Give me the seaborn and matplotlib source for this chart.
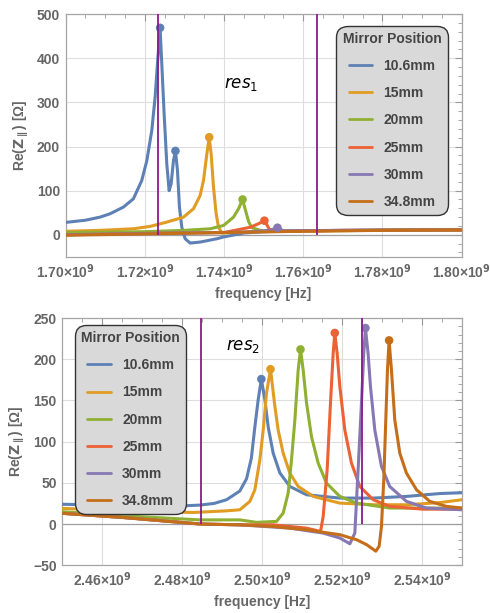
import numpy as np
import seaborn as sns
import matplotlib.pyplot as plt
from matplotlib.ticker import MultipleLocator, FuncFormatter

positions = ["10.6mm", "15mm", "20mm", "25mm", "30mm", "34.8mm"]
colors = ["#5e81b5", "#e19c24", "#8fb032", "#eb6235", "#8778b3", "#c56e1a"]

# --- res1: frequency in GHz, Re(Z) in Ohm ---
r1_f_106 = [1.700, 1.705, 1.70868, 1.71121, 1.71458, 1.71711, 1.71922, 1.7205, 1.72175,
            1.72259, 1.72318, 1.72385, 1.72428, 1.72487, 1.72554, 1.72613, 1.72664, 1.72723,
            1.72773, 1.72824, 1.72874, 1.72933, 1.73018, 1.73144, 1.73397, 1.73819, 1.73987,
            1.745, 1.750, 1.760, 1.770, 1.780, 1.790, 1.800]
r1_z_106 = [28, 33, 40, 47.6, 62.7, 81.5, 123, 168, 236,
            311.5, 387, 469, 387, 274, 161, 100, 115.5, 168,
            190, 145.6, 62.7, 17.3, -9, -18.8, -16.5, -9, -5,
            4, 7, 9, 10, 11, 12, 12]
r1_f_15 = [1.700, 1.70868, 1.71711, 1.72133, 1.72554, 1.72976, 1.73228, 1.73397, 1.73481,
           1.73566, 1.73625, 1.73675, 1.73734, 1.73801, 1.73861, 1.73945, 1.745, 1.750,
           1.760, 1.780, 1.800]
r1_z_15 = [8, 10, 13.6, 19, 28.7, 40, 58.9, 89, 123,
           183, 221, 183, 108, 47.6, 17.3, 4, 6, 8,
           9, 10, 11]
r1_f_20 = [1.700, 1.720, 1.730, 1.7365, 1.73987, 1.7424, 1.74367, 1.74468, 1.7462, 1.7470,
           1.750, 1.760, 1.780, 1.800]
r1_z_20 = [5, 7, 10, 13.6, 21, 40, 59, 80, 30, 16, 8, 9, 10, 11]
r1_f_25 = [1.700, 1.720, 1.740, 1.7466, 1.7487, 1.7502, 1.7515, 1.755, 1.770, 1.800]
r1_z_25 = [0, 3, 5, 17, 25, 32, 12, 8, 10, 11]
r1_f_30 = [1.700, 1.720, 1.745, 1.7515, 1.7535, 1.755, 1.770, 1.800]
r1_z_30 = [0, 3, 6, 10, 16, 9, 10, 11]
r1_f_348 = [1.700, 1.720, 1.740, 1.760, 1.780, 1.800]
r1_z_348 = [-1, 2, 5, 8, 10, 11]

r1_peak_f = [[1.72385, 1.72773], [1.73625], [1.74468], [1.7502], [1.7535], []]
r1_peak_z = [[469, 190], [221], [80], [32], [16], []]
r1_markers = [1.7233, 1.7634]

# --- res2 ---
r2_f_106 = [2.450, 2.460, 2.470, 2.480, 2.4845, 2.488, 2.4911, 2.4944, 2.4961, 2.4973,
            2.49818, 2.49901, 2.4998, 2.50068, 2.50151, 2.50276, 2.50443, 2.50693, 2.5111,
            2.5194, 2.5278, 2.5361, 2.5444, 2.550]
r2_z_106 = [24, 23, 22.5, 22, 23, 25, 29.5, 40, 55, 80,
            118, 151, 176, 151, 118, 86, 62, 45.6, 35.5,
            31.5, 31.5, 33.5, 37, 38]
r2_f_15 = [2.450, 2.465, 2.4828, 2.4911, 2.49443, 2.49693, 2.49818, 2.49943, 2.50026, 2.50109,
           2.50209, 2.50318, 2.50401, 2.50526, 2.50693, 2.50901, 2.5128, 2.5194, 2.5278,
           2.5361, 2.5444, 2.550]
r2_z_15 = [19, 16, 14, 16, 17.3, 27.5, 41.6, 78, 114, 159,
           188, 143, 114, 86, 61.8, 45.6, 33.5, 25.4, 23.4,
           23.4, 26, 29.5]
r2_f_20 = [2.450, 2.465, 2.4845, 2.49443, 2.4986, 2.5036, 2.50526, 2.50651, 2.50734, 2.50818,
           2.50901, 2.50959, 2.51026, 2.5111, 2.51234, 2.51401, 2.51609, 2.51943, 2.5236,
           2.5319, 2.540, 2.550]
r2_z_20 = [15, 10, 5, 5, 2, 3.2, 13.3, 37.6, 78, 126,
           187, 212, 187, 147, 106, 74, 49.7, 33.5, 25.4,
           19.4, 19.4, 19.4]
r2_f_25 = [2.450, 2.465, 2.4845, 2.4944, 2.50276, 2.5111, 2.5146, 2.51526, 2.51626, 2.51709,
           2.51776, 2.51817, 2.51876, 2.51943, 2.52068, 2.52234, 2.52443, 2.52776, 2.5319,
           2.5403, 2.550]
r2_z_25 = [13, 8, 0, -1, -1, -5, -9, 9, 66, 147,
           207, 232, 207, 167, 114, 74, 45.6, 29.5, 21.4,
           18, 18]
r2_f_30 = [2.450, 2.465, 2.4845, 2.4944, 2.50693, 2.51526, 2.51943, 2.52193, 2.52318, 2.524,
           2.52484, 2.52541, 2.52583, 2.5265, 2.52709, 2.52818, 2.52984, 2.5319, 2.53609,
           2.54109, 2.550]
r2_z_30 = [13, 8, 0, -1, -5, -11, -17, -24, -11, 66,
           147, 207, 238, 207, 167, 114, 70, 45.6, 27.5,
           19.4, 17.3]
r2_f_348 = [2.450, 2.465, 2.4845, 2.4944, 2.50276, 2.5111, 2.51943, 2.5236, 2.5261, 2.52843,
            2.52926, 2.52984, 2.53042, 2.53092, 2.53134, 2.53175, 2.53234, 2.53318, 2.53443,
            2.53609, 2.5386, 2.54192, 2.54609, 2.550]
r2_z_348 = [13, 8, 0, -1, -3, -7, -13, -19, -25, -33,
            -27, -3, 54, 126, 187, 223, 187, 126, 86,
            61.8, 41.6, 27.5, 21.4, 19.4]

r2_peak_f = [[2.4998], [2.50209], [2.50959], [2.51817], [2.52583], [2.53175]]
r2_peak_z = [[176], [188], [212], [232], [238], [223]]
r2_markers = [2.4847, 2.5249]

panels = [
    dict(f=[r1_f_106, r1_f_15, r1_f_20, r1_f_25, r1_f_30, r1_f_348],
         z=[r1_z_106, r1_z_15, r1_z_20, r1_z_25, r1_z_30, r1_z_348],
         pf=r1_peak_f, pz=r1_peak_z, vl=r1_markers,
         xlim=(1.70e9, 1.80e9), ylim=(-50, 500), ymaj=100, ymin=20,
         tag=r"$\mathit{res}_{\mathit{1}}$", tagpos=(0.40, 0.695),
         rect=[0.134, 0.581, 0.808, 0.396],
         leg=dict(loc="upper right", bbox_to_anchor=(0.965, 0.953))),
    dict(f=[r2_f_106, r2_f_15, r2_f_20, r2_f_25, r2_f_30, r2_f_348],
         z=[r2_z_106, r2_z_15, r2_z_20, r2_z_25, r2_z_30, r2_z_348],
         pf=r2_peak_f, pz=r2_peak_z, vl=r2_markers,
         xlim=(2.45e9, 2.55e9), ylim=(-50, 250), ymaj=50, ymin=10,
         tag=r"$\mathit{res}_{\mathit{2}}$", tagpos=(0.41, 0.872),
         rect=[0.127, 0.078, 0.816, 0.403],
         leg=dict(loc="upper left", bbox_to_anchor=(0.032, 0.973))),
]

sns.set_style("white")
plt.rcParams["font.family"] = ["Liberation Sans", "DejaVu Sans"]
plt.rcParams["mathtext.fontset"] = "dejavusans"
plt.rcParams["mathtext.default"] = "bf"

grey = "#666666"
fig = plt.figure(figsize=(4.9, 6.13), dpi=100)

for p in panels:
    ax = fig.add_axes(p["rect"])
    ax.grid(True, which="major", color="#dedede", lw=0.8, zorder=0)
    ax.axhline(0, color="#a0a0a0", lw=0.9, zorder=1)
    for i, name in enumerate(positions):
        f = np.array(p["f"][i]) * 1e9
        sns.lineplot(x=f, y=p["z"][i], color=colors[i], lw=2.2, label=name,
                     ax=ax, sort=False, estimator=None, zorder=3)
    for i, name in enumerate(positions):
        if len(p["pf"][i]):
            sns.scatterplot(x=np.array(p["pf"][i]) * 1e9, y=p["pz"][i], color=colors[i],
                            s=38, edgecolor="none", legend=False, ax=ax, zorder=4)
    ax.vlines(np.array(p["vl"]) * 1e9, 0, p["ylim"][1], color="#8b1a8b", lw=1.3, zorder=5)

    ax.set_xlim(*p["xlim"])
    ax.set_ylim(*p["ylim"])
    ax.xaxis.set_major_locator(MultipleLocator(0.02e9))
    ax.xaxis.set_minor_locator(MultipleLocator(0.005e9))
    ax.yaxis.set_major_locator(MultipleLocator(p["ymaj"]))
    ax.yaxis.set_minor_locator(MultipleLocator(p["ymin"]))
    ax.xaxis.set_major_formatter(FuncFormatter(lambda v, pos: f"{v / 1e9:.2f}×10$^{{9}}$"))
    ax.tick_params(which="both", direction="in", top=True, right=True, color="#999999",
                   labelcolor=grey, labelsize=10, pad=4)
    ax.tick_params(which="major", length=5, width=0.8)
    ax.tick_params(which="minor", length=3, width=0.6)
    for lab in ax.get_xticklabels() + ax.get_yticklabels():
        lab.set_fontweight("bold")
    for s in ax.spines.values():
        s.set_color("#a6a6a6")
        s.set_linewidth(0.9)

    ax.set_xlabel("frequency [Hz]", fontsize=10, fontweight="bold", color=grey, labelpad=4)
    ax.set_ylabel(r"Re($Z_{\parallel}$) [Ω]", fontsize=10, fontweight="bold", color=grey,
                  labelpad=4)
    ax.text(*p["tagpos"], p["tag"], transform=ax.transAxes, fontsize=12, color="black")

    leg = ax.legend(title="Mirror Position", frameon=True, facecolor="#d9d9d9",
                    edgecolor="#333333", framealpha=1, fancybox=True, labelspacing=0.95,
                    handlelength=1.7, handletextpad=0.8, borderpad=0.45, borderaxespad=0,
                    prop={"weight": "bold", "size": 10},
                    title_fontproperties={"weight": "bold", "size": 10}, **p["leg"])
    leg.get_frame().set_linewidth(1.0)
    leg.get_frame().set_boxstyle("round", pad=0, rounding_size=0.8)
    leg.get_title().set_color("#444444")
    for t in leg.get_texts():
        t.set_color("#444444")
    for h in leg.get_lines():
        h.set_linewidth(2.0)
    leg.set_zorder(6)

fig.savefig("out.png", dpi=100)
